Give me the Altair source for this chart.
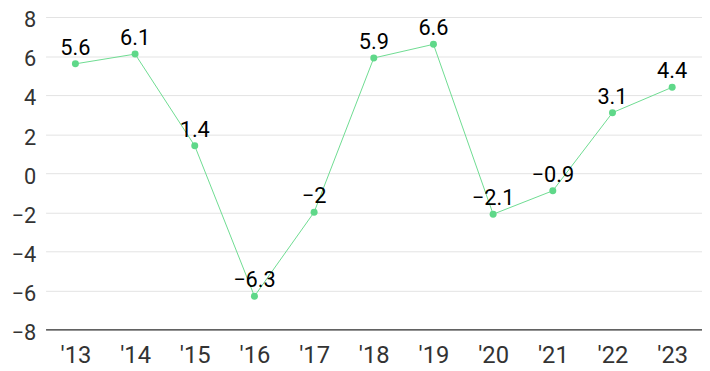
import altair as alt
import pandas as pd

years = ["'13", "'14", "'15", "'16", "'17", "'18", "'19", "'20", "'21", "'22", "'23"]
values = [5.6, 6.1, 1.4, -6.3, -2, 5.9, 6.6, -2.1, -0.9, 3.1, 4.4]

df = pd.DataFrame({"year": years, "value": values})

FONT = "Roboto"

base = alt.Chart(df).encode(
    x=alt.X("year:O", sort=years, title=None,
            scale=alt.Scale(type="point", padding=0.5),
            axis=alt.Axis(labelAngle=0, labelFontSize=24, labelColor="#333333",
                          labelFont=FONT, ticks=False, labelPadding=14,
                          domainColor="#333333", domainWidth=1.2)),
    y=alt.Y("value:Q", title=None,
            scale=alt.Scale(domain=[-8, 8], nice=False),
            axis=alt.Axis(values=list(range(-8, 9, 2)), labelFontSize=22,
                          labelColor="#333333", labelFont=FONT, ticks=False,
                          domain=False, labelPadding=10, labelOffset=3,
                          gridColor="#e3e3e3", format="d")),
)

line = base.mark_line(color="#6ddc91", strokeWidth=1)
points = base.mark_point(filled=True, opacity=1, color="#5fd889", size=50)
labels = base.mark_text(dy=-9, baseline="alphabetic", fontSize=22, font=FONT,
                        color="#000000").encode(
    text=alt.Text("value:Q", format=".1~f"))

chart = (line + points + labels).properties(
    width=664, height=316,
    padding={"left": 38, "top": 7, "right": 0, "bottom": 40},
    autosize=alt.AutoSizeParams(type="none"),
).configure_view(stroke=None)

chart.save("out.html", embed_options={"renderer": "svg", "actions": False})
